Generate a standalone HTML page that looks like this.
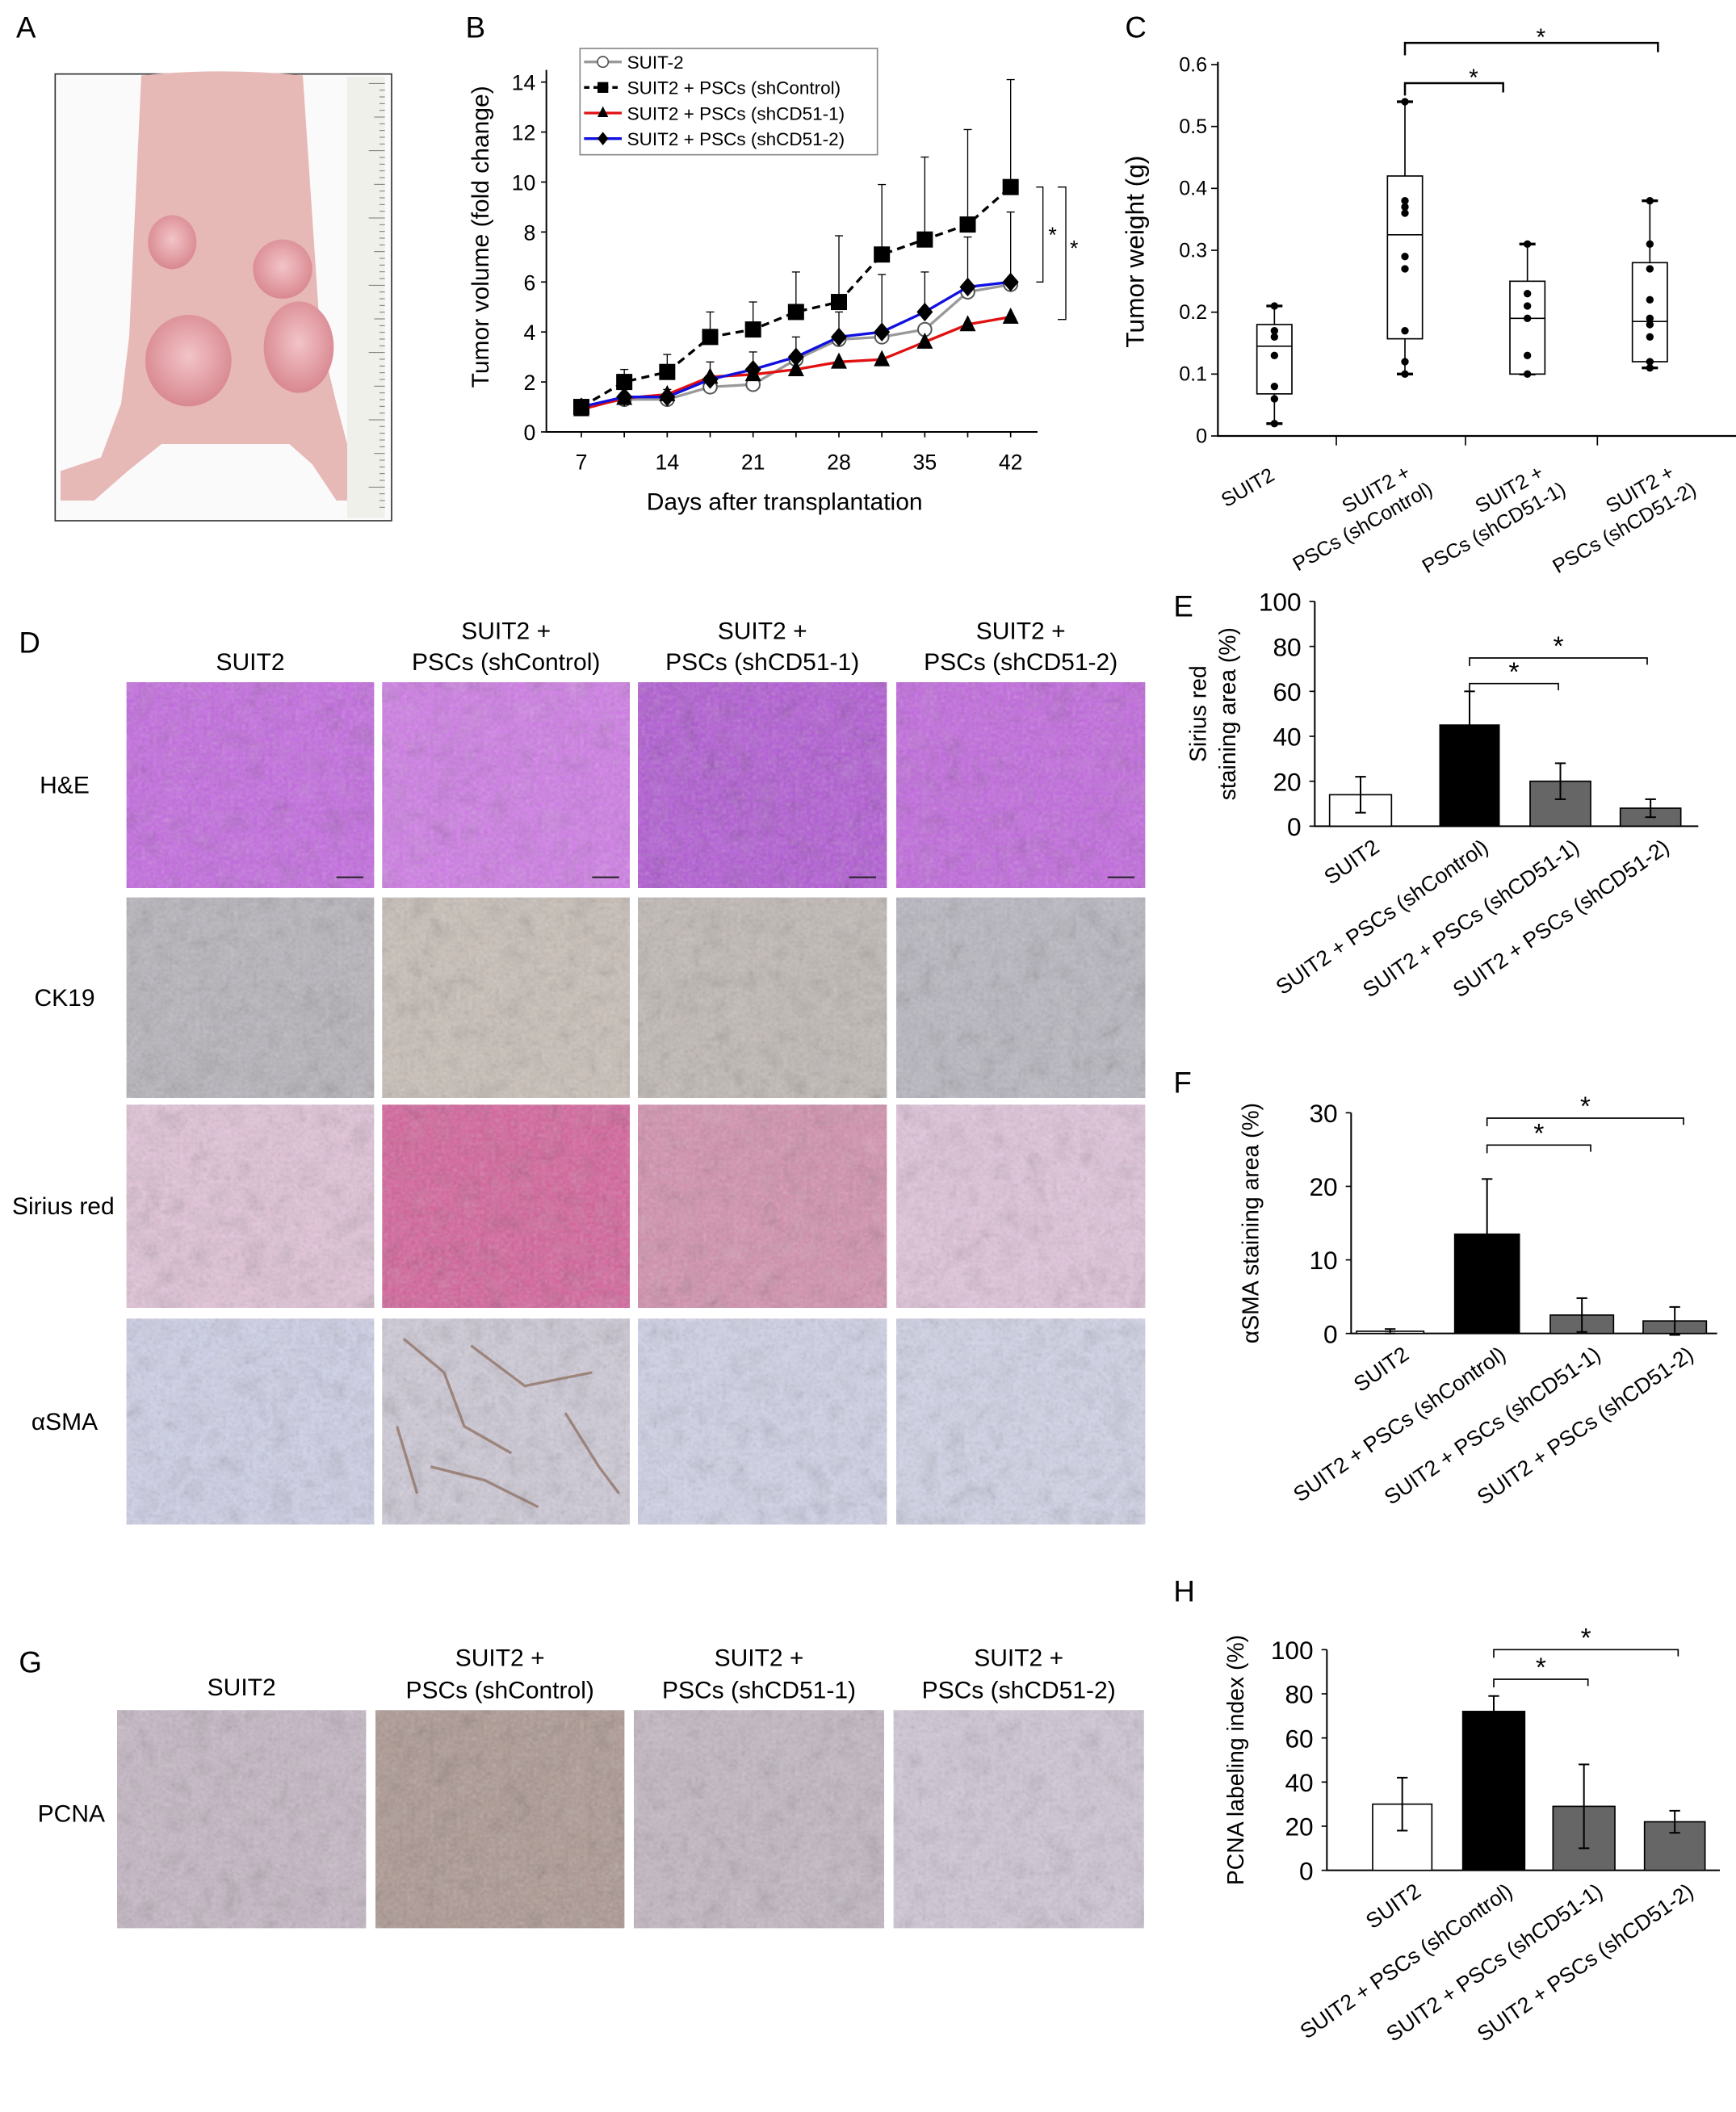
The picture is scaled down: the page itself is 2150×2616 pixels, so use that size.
<!DOCTYPE html>
<html><head><meta charset="utf-8"><style>
html,body{margin:0;padding:0;background:#fff;}
svg{display:block;font-family:"Liberation Sans",Arial,sans-serif;}
</style></head><body>
<svg id="fig" width="2150" height="2616" viewBox="0 0 1290 1569.6" preserveAspectRatio="none" xmlns="http://www.w3.org/2000/svg">
<defs>
<filter id="tex" x="0" y="0" width="100%" height="100%"><feTurbulence type="fractalNoise" baseFrequency="0.35" numOctaves="2" seed="3"/><feColorMatrix type="saturate" values="0"/><feComponentTransfer><feFuncA type="table" tableValues="0 0.35"/></feComponentTransfer></filter>
<filter id="tex2" x="0" y="0" width="100%" height="100%"><feTurbulence type="turbulence" baseFrequency="0.05" numOctaves="2" seed="7"/><feColorMatrix type="saturate" values="0"/><feComponentTransfer><feFuncA type="table" tableValues="0 0.25"/></feComponentTransfer></filter>
<radialGradient id="tum" cx="50%" cy="45%" r="55%"><stop offset="0" stop-color="#f2c4c8"/><stop offset="1" stop-color="#d98890"/></radialGradient>
</defs>
<g id="panelA">
<text x="12" y="28" font-size="22">A</text>
<rect x="41" y="55" width="250" height="332" fill="#fbfafa" stroke="#333" stroke-width="1"/>
<path d="M105,56 Q165,50 225,56 L238,250 L250,300 L262,345 L285,350 L285,372 L250,372 L232,345 L215,330 L120,330 L95,350 L70,372 L45,372 L45,350 L75,340 L90,300 L96,250 Z" fill="#e6b8b6"/>
<ellipse cx="128" cy="180" rx="18" ry="20" fill="url(#tum)"/>
<ellipse cx="210" cy="200" rx="22" ry="22" fill="url(#tum)"/>
<ellipse cx="140" cy="268" rx="32" ry="34" fill="url(#tum)"/>
<ellipse cx="222" cy="258" rx="26" ry="34" fill="url(#tum)"/>
<rect x="258" y="57" width="28" height="328" fill="#f0f0ea"/>
<g id="rulerTicks" stroke="#777" stroke-width="0.6"></g>
</g>
<g id="panelB"></g>
<g id="panelC"></g>
<g id="panelD"></g>
<g id="panelE"></g>
<g id="panelF"></g>
<g id="panelH"></g>
</svg>
<script>
// ---------- Panel B data ----------
const bDays = [7,10.5,14,17.5,21,24.5,28,31.5,35,38.5,42];
const bSuit2 = [1,1.3,1.3,1.8,1.9,2.9,3.7,3.8,4.1,5.6,5.9];
const bShControl = [1,2.0,2.4,3.8,4.1,4.8,5.2,7.1,7.7,8.3,9.8];
const bShControlErr = [0.2,0.5,0.7,1.0,1.1,1.6,2.65,2.8,3.3,3.8,4.3];
const bShCD511 = [0.9,1.35,1.5,2.2,2.3,2.5,2.8,2.9,3.6,4.3,4.6];
const bShCD512 = [1,1.4,1.4,2.1,2.5,3.0,3.8,4.0,4.8,5.8,6.0];
const bShCD512Err = [0.2,0.3,0.3,0.7,0.7,0.8,1.0,2.3,1.6,2.0,2.8];
const bYTicks = [0,2,4,6,8,10,12,14];
const bXTicks = [7,14,21,28,35,42];
// ---------- Panel C data ----------
const cCats = ["SUIT2","shControl","shCD51-1","shCD51-2"];
const cMin = [0.02,0.10,0.10,0.11];
const cQ1 = [0.068,0.157,0.10,0.12];
const cMed = [0.145,0.325,0.19,0.185];
const cQ3 = [0.18,0.42,0.25,0.28];
const cMax = [0.21,0.54,0.31,0.38];
const cPoints = [[0.02,0.06,0.08,0.13,0.16,0.17,0.21],[0.10,0.12,0.17,0.27,0.29,0.36,0.37,0.38,0.54],[0.10,0.13,0.19,0.21,0.23,0.31],[0.11,0.12,0.16,0.18,0.19,0.22,0.27,0.31,0.38]];
const cYTicks = [0,0.1,0.2,0.3,0.4,0.5,0.6];
// ---------- Bar panels ----------
const barCats = ["SUIT2","SUIT2 + PSCs (shControl)","SUIT2 + PSCs (shCD51-1)","SUIT2 + PSCs (shCD51-2)"];
const eVals = [14,45,20,8];
const eErr = [8,15,8,4];
const eTicks = [0,20,40,60,80,100];
const fVals = [0.3,13.5,2.5,1.7];
const fErr = [0.3,7.5,2.3,1.9];
const fTicks = [0,10,20,30];
const hVals = [30,72,29,22];
const hErr = [12,7,19,5];
const hTicks = [0,20,40,60,80,100];
const barFills = ["#ffffff","#000000","#666666","#666666"];

const NS="http://www.w3.org/2000/svg";
function mk(parent,tag,attrs,text){const e=document.createElementNS(NS,tag);for(const k in attrs)e.setAttribute(k,attrs[k]);if(text!==undefined)e.textContent=text;parent.appendChild(e);return e;}

// ruler
const rt=document.getElementById('rulerTicks');
for(let i=0;i<64;i++){const y=62+i*5;const l=mk(rt,'line',{x1:286-(i%10==0?12:(i%5==0?8:4)),x2:286,y1:y,y2:y});

}

// ---------- Panel B ----------
(function(){
const g=document.getElementById('panelB');
const X=d=>432+(d-7)*(751-432)/35, Y=v=>321-v*(321-61)/14;
const lab=mk(g,'text',{x:346,y:28,'font-size':22});lab.textContent='B';


const ax=mk(g,'path',{d:`M406,52 L406,321 L771,321`,fill:'none',stroke:'#000','stroke-width':1.2});


bYTicks.forEach(t=>{mk(g,'line',{x1:402,x2:406,y1:Y(t),y2:Y(t),stroke:'#000'});
const tx=mk(g,'text',{x:398,y:Y(t)+6,'font-size':16,'text-anchor':'end'},t);

});
bDays.forEach(d=>mk(g,'line',{x1:X(d),x2:X(d),y1:321,y2:325,stroke:'#000'}));
bXTicks.forEach(t=>{const tx=mk(g,'text',{x:X(t),y:349,'font-size':16,'text-anchor':'middle'},t);

});
const yt=mk(g,'text',{transform:'translate(363,176) rotate(-90)','font-size':18,'text-anchor':'middle'},'Tumor volume (fold change)');


const xt=mk(g,'text',{x:583,y:379,'font-size':18,'text-anchor':'middle'},'Days after transplantation');


bShControl.forEach((v,i)=>{const x=X(bDays[i]);mk(g,'line',{x1:x,x2:x,y1:Y(v),y2:Y(v+bShControlErr[i]),stroke:'#000','stroke-width':0.8});mk(g,'line',{x1:x-3,x2:x+3,y1:Y(v+bShControlErr[i]),y2:Y(v+bShControlErr[i]),stroke:'#000','stroke-width':0.8});});
bShCD512.forEach((v,i)=>{const x=X(bDays[i]);mk(g,'line',{x1:x,x2:x,y1:Y(v),y2:Y(v+bShCD512Err[i]),stroke:'#000','stroke-width':0.8});mk(g,'line',{x1:x-3,x2:x+3,y1:Y(v+bShCD512Err[i]),y2:Y(v+bShCD512Err[i]),stroke:'#000','stroke-width':0.8});});
function series(vals,color,dash,name,marker){
 const p=mk(g,'polyline',{points:vals.map((v,i)=>X(bDays[i])+','+Y(v)).join(' '),fill:'none',stroke:color,'stroke-width':2,'stroke-dasharray':dash});
 
 
 vals.forEach((v,i)=>{const x=X(bDays[i]),y=Y(v);let m;
  if(marker==='circle')m=mk(g,'circle',{cx:x,cy:y,r:5,fill:'#fff',stroke:'#555','stroke-width':1.2});
  else if(marker==='square')m=mk(g,'rect',{x:x-6,y:y-6,width:12,height:12,fill:'#000'});
  else if(marker==='tri')m=mk(g,'path',{d:`M${x},${y-7} L${x+6},${y+5} L${x-6},${y+5}Z`,fill:'#000'});
  else m=mk(g,'path',{d:`M${x},${y-7} L${x+6},${y} L${x},${y+7} L${x-6},${y}Z`,fill:'#000'});
  
  });
}
series(bSuit2,'#999','none','suit2','circle');
series(bShCD511,'#e21010','none','shcd51-1','tri');
series(bShCD512,'#1010e0','none','shcd51-2','diamond');
series(bShControl,'#000','6,4','shcontrol','square');
const b1=mk(g,'path',{d:`M770,${Y(9.8)} L775,${Y(9.8)} L775,${Y(6)} L770,${Y(6)}`,fill:'none',stroke:'#000','stroke-width':0.8});


const b2=mk(g,'path',{d:`M786,${Y(9.8)} L792,${Y(9.8)} L792,${Y(4.5)} L786,${Y(4.5)}`,fill:'none',stroke:'#000','stroke-width':0.8});


mk(g,'text',{x:779,y:180,'font-size':16},'*');mk(g,'text',{x:795,y:190,'font-size':16},'*');
const lg=mk(g,'g',{});


mk(lg,'rect',{x:431,y:36,width:221,height:79,fill:'#fff',stroke:'#888','stroke-width':1});
const items=[['SUIT-2','#999','none','circle'],['SUIT2 + PSCs (shControl)','#000','4,3','square'],['SUIT2 + PSCs (shCD51-1)','#e21010','none','tri'],['SUIT2 + PSCs (shCD51-2)','#1010e0','none','diamond']];
items.forEach((it,i)=>{const y=46+i*19;mk(lg,'line',{x1:434,x2:462,y1:y,y2:y,stroke:it[1],'stroke-width':2,'stroke-dasharray':it[2]});
 const x=448;if(it[3]==='circle')mk(lg,'circle',{cx:x,cy:y,r:4,fill:'#fff',stroke:'#555'});else if(it[3]==='square')mk(lg,'rect',{x:x-4,y:y-4,width:8,height:8});else if(it[3]==='tri')mk(lg,'path',{d:`M${x},${y-5} L${x+4},${y+3} L${x-4},${y+3}Z`});else mk(lg,'path',{d:`M${x},${y-5} L${x+4},${y} L${x},${y+5} L${x-4},${y}Z`});
 const t=mk(lg,'text',{x:466,y:y+5,'font-size':13.5},it[0]);
 
 });
})();

// ---------- Panel C ----------
(function(){
const g=document.getElementById('panelC');
const Y=v=>324-v*(324-48)/0.6; const cx=[947,1044,1135,1226];
const lab=mk(g,'text',{x:836,y:28,'font-size':22},'C');


mk(g,'path',{d:'M905,46 L905,324 L1290,324',fill:'none',stroke:'#000','stroke-width':1.3});
[993,1089,1187].forEach(x=>mk(g,'line',{x1:x,x2:x,y1:324,y2:331,stroke:'#000'}));
cYTicks.forEach(t=>{mk(g,'line',{x1:900,x2:905,y1:Y(t),y2:Y(t),stroke:'#000'});
const tx=mk(g,'text',{x:897,y:Y(t)+5,'font-size':15,'text-anchor':'end'},t===0?'0':t.toFixed(1));

});
const yt=mk(g,'text',{transform:'translate(850,187) rotate(-90)','font-size':19,'text-anchor':'middle'},'Tumor weight (g)');


cCats.forEach((c,i)=>{const x=cx[i];
 mk(g,'line',{x1:x,x2:x,y1:Y(cMin[i]),y2:Y(cMax[i]),stroke:'#000','stroke-width':1});
 [cMin[i],cMax[i]].forEach(v=>mk(g,'line',{x1:x-6,x2:x+6,y1:Y(v),y2:Y(v),stroke:'#000','stroke-width':2}));
 const b=mk(g,'rect',{x:x-13,y:Y(cQ3[i]),width:26,height:Y(cQ1[i])-Y(cQ3[i]),fill:'#fff',stroke:'#000','stroke-width':1});
 
 
 mk(g,'line',{x1:x-13,x2:x+13,y1:Y(cMed[i]),y2:Y(cMed[i]),stroke:'#000','stroke-width':1});
 cPoints[i].forEach(v=>{const d=mk(g,'circle',{cx:x,cy:Y(v),r:2.8,fill:'#000'});
 
 });
});
const xl=[['SUIT2'],['SUIT2 +','PSCs (shControl)'],['SUIT2 +','PSCs (shCD51-1)'],['SUIT2 +','PSCs (shCD51-2)']];
const lx=[955,1056,1155,1252];
xl.forEach((l,i)=>{const t=mk(g,'text',{transform:`translate(${lx[i]},${l.length===1?352:350}) rotate(-30)`,'font-size':15,'text-anchor':'end'});
 
 
 l.forEach((s,j)=>mk(t,'tspan',{x:j===0?-8:0,dy:j===0?0:19},s));});
mk(g,'path',{d:`M1044,${Y(0.55)} L1044,${Y(0.57)} L1117,${Y(0.57)} L1117,${Y(0.555)}`,fill:'none',stroke:'#000','stroke-width':1.5});
mk(g,'path',{d:`M1044,${Y(0.615)} L1044,${Y(0.635)} L1232,${Y(0.635)} L1232,${Y(0.62)}`,fill:'none',stroke:'#000','stroke-width':1.5});
mk(g,'text',{x:1095,y:Y(0.575)+4,'font-size':18,'text-anchor':'middle'},'*');
mk(g,'text',{x:1145,y:Y(0.64)+4,'font-size':18,'text-anchor':'middle'},'*');
})();

// ---------- Panels D and G (histology) ----------
(function(){
const g=document.getElementById('panelD');
const mklab=(x,y,s,fs,anch,name)=>{const t=mk(g,'text',{x:x,y:y,'font-size':fs,'text-anchor':anch||'middle'},s);return t;};
mklab(14,485,'D',22,'start','panel-d-label');
mklab(14,1243,'G',22,'start','panel-g-label');
const colsD=[[94,278],[284,468],[474,659],[666,851]];
const rowsD=[[507,660],[667,816],[821,972],[980,1133]];
const headers=[['SUIT2'],['SUIT2 +','PSCs (shControl)'],['SUIT2 +','PSCs (shCD51-1)'],['SUIT2 +','PSCs (shCD51-2)']];
colsD.forEach((c,i)=>{const x=(c[0]+c[1])/2;const h=headers[i];
 if(h.length===1)mklab(x,498,h[0],18,'middle','d-column-header');else{mklab(x,475,h[0],18,'middle','d-column-header');mklab(x,498,h[1],18,'middle','d-column-header');}});
const rowNames=['H&E','CK19','Sirius red','αSMA'];
rowsD.forEach((r,i)=>mklab(i===2?47:48,(r[0]+r[1])/2+6,rowNames[i],18,'middle','d-row-label'));
const colors=[["#c668e4","#d27aea","#b458d8","#c466e2"],["#b8b4bc","#cac0b8","#c2bab6","#b9b8c2"],["#e4c4da","#d8609c","#d690b0","#e4c6de"],["#d0d2ea","#d0ccda","#d2d4ea","#d3d5ea"]];
rowsD.forEach((r,i)=>colsD.forEach((c,j)=>{
 const im=mk(g,'rect',{x:c[0],y:r[0],width:c[1]-c[0],height:r[1]-r[0],fill:colors[i][j]});
 
 
 mk(g,'rect',{x:c[0],y:r[0],width:c[1]-c[0],height:r[1]-r[0],filter:'url(#tex)'});
 mk(g,'rect',{x:c[0],y:r[0],width:c[1]-c[0],height:r[1]-r[0],filter:'url(#tex2)'});
 if(i===0)mk(g,'line',{x1:c[1]-28,x2:c[1]-8,y1:r[1]-8,y2:r[1]-8,stroke:'#222','stroke-width':1.2});
}));
// brown streaks in aSMA shControl
const streaks=["M300,995 L330,1020 L345,1060 L380,1080","M350,1000 L390,1030 L440,1020","M320,1090 L360,1100 L400,1120","M420,1050 L445,1090 L460,1110","M295,1060 L310,1110"];
streaks.forEach(d=>{const s=mk(g,'path',{d:d,fill:'none',stroke:'#8a6a58','stroke-width':2,opacity:0.7});
 
 });
const colsG=[[87,272],[279,464],[471,657],[664,850]];
colsG.forEach((c,i)=>{const x=(c[0]+c[1])/2;const h=headers[i];
 if(h.length===1)mklab(x,1260,h[0],18,'middle','g-column-header');else{mklab(x,1238,h[0],18,'middle','g-column-header');mklab(x,1262,h[1],18,'middle','g-column-header');}});
mklab(53,1354,'PCNA',18,'middle','g-row-label');
const gcol=["#c6b8c6","#ae9892","#c4b8c4","#d2c8d8"];
colsG.forEach((c,j)=>{const im=mk(g,'rect',{x:c[0],y:1271,width:c[1]-c[0],height:162,fill:gcol[j]});
 
 
 mk(g,'rect',{x:c[0],y:1271,width:c[1]-c[0],height:162,filter:'url(#tex)'});
 mk(g,'rect',{x:c[0],y:1271,width:c[1]-c[0],height:162,filter:'url(#tex2)'});});
})();

// ---------- Bar charts E, F, H ----------
function barChart(id,letter,lx,ly,ax0,axEnd,y0,yTop,maxV,ticks,vals,errs,bars,title,titleX,brackets){
 const g=document.getElementById(id);
 const Y=v=>y0-v*(y0-yTop)/maxV;
 const l=mk(g,'text',{x:lx,y:ly,'font-size':22},letter);
 
 
 mk(g,'path',{d:`M${ax0},${yTop} L${ax0},${y0} L${axEnd},${y0}`,fill:'none',stroke:'#000','stroke-width':1.2});
 ticks.forEach(t=>{mk(g,'line',{x1:ax0-4,x2:ax0,y1:Y(t),y2:Y(t),stroke:'#000'});
  const tx=mk(g,'text',{x:ax0-10,y:Y(t)+7,'font-size':19,'text-anchor':'end'},t);
  
  });
 vals.forEach((v,i)=>{const b=bars[i];
  const r=mk(g,'rect',{x:b[0],y:Y(v),width:b[1]-b[0],height:y0-Y(v),fill:barFills[i],stroke:'#000','stroke-width':1});
  
  
  const cx=(b[0]+b[1])/2,e=errs[i];
  mk(g,'line',{x1:cx,x2:cx,y1:Y(v-e),y2:Y(v+e),stroke:'#000','stroke-width':1.2});
  [v-e,v+e].forEach(q=>mk(g,'line',{x1:cx-4,x2:cx+4,y1:Y(q),y2:Y(q),stroke:'#000','stroke-width':1.2}));
  const t=mk(g,'text',{transform:`translate(${cx+15},${y0+18}) rotate(-35)`,'font-size':16,'text-anchor':'end'},barCats[i]);
  
  
 });
 const yt=mk(g,'g',{transform:`translate(${titleX},${(y0+yTop)/2}) rotate(-90)`});
 
 
 title.forEach((s,j)=>mk(yt,'text',{x:0,y:j*22 - (title.length-1)*11+6,'font-size':17,'text-anchor':'middle'},s));
 brackets.forEach(bk=>{const [x1,x2,yb]=bk;const cxs=(bars[1][0]+bars[1][1])/2;
  mk(g,'path',{d:`M${cxs},${yb+6} L${cxs},${yb} L${x2},${yb} L${x2},${yb+5}`,fill:'none',stroke:'#000','stroke-width':1});
  mk(g,'text',{x:(cxs+x2)/2,y:yb-2,'font-size':20,'text-anchor':'middle'},'*');});
}
barChart('panelE','E',872,458,977,1262,614,447,100,eTicks,eVals,eErr,[[988,1034],[1070,1114],[1137,1182],[1204,1249]],['Sirius red','staining area (%)'],901,[[0,1158,508],[0,1224,489]]);
barChart('panelF','F',872,812,1004,1276,991,827,30,fTicks,fVals,fErr,[[1008,1058],[1081,1129],[1152,1199],[1221,1268]],['αSMA staining area (%)'],929,[[0,1182,851],[0,1251,831]]);
barChart('panelH','H',872,1190,986,1278,1390,1226,100,hTicks,hVals,hErr,[[1020,1064],[1087,1133],[1154,1200],[1222,1267]],['PCNA labeling index (%)'],918,[[0,1180,1248],[0,1247,1226]]);
</script>
</body></html>
